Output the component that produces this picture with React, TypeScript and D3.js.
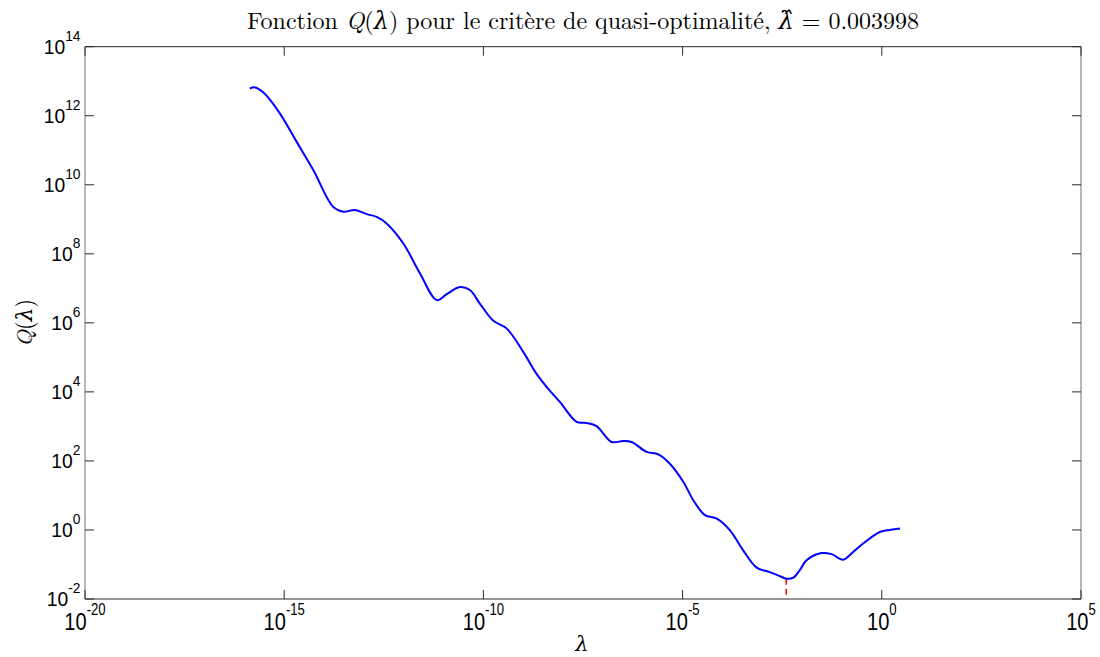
import React from "react";
import * as d3 from "d3";

// log10 of lambda and log10 of Q(lambda)
const lambdaExp = [
  -15.86, -15.73, -15.52, -15.11, -14.69, -14.27, -13.77, -13.52, -13.22, -12.93,
  -12.68, -12.43, -12.01, -11.59, -11.17, -10.92, -10.59, -10.34, -10.09, -9.75,
  -9.42, -9.0, -8.7, -8.41, -8.08, -7.66, -7.41, -7.16, -6.78, -6.49,
  -6.28, -5.9, -5.61, -5.32, -4.98, -4.73, -4.44, -4.14, -3.81, -3.48,
  -3.14, -2.81, -2.55, -2.4, -2.22, -2.05, -1.89, -1.51, -1.26, -0.97, -0.72, -0.42,
  -0.05, 0.2, 0.46,
];
const qExp = [
  12.79, 12.82, 12.67, 12.07, 11.25, 10.43, 9.36, 9.22, 9.27, 9.15,
  9.07, 8.88, 8.3, 7.43, 6.66, 6.83, 7.04, 6.95, 6.56, 6.06,
  5.84, 5.16, 4.58, 4.14, 3.71, 3.13, 3.1, 3.01, 2.55, 2.58,
  2.55, 2.26, 2.19, 1.92, 1.39, 0.86, 0.43, 0.33, -0.01, -0.59,
  -1.09, -1.22, -1.34, -1.41, -1.38, -1.15, -0.88, -0.67, -0.7, -0.86, -0.64, -0.35,
  -0.06, 0.0, 0.04,
];
const lambdaHat = 0.003998;
const xTickExps = [-20, -15, -10, -5, 0, 5];
const yTickExps = [-2, 0, 2, 4, 6, 8, 10, 12, 14];

const W = 1100;
const H = 657;
const m = { left: 85, right: 1081, top: 46.7, bottom: 599 };

export default function App() {
  const x = d3.scaleLog().domain([1e-20, 1e5]).range([m.left, m.right]);
  const y = d3.scaleLog().domain([1e-2, 1e14]).range([m.bottom, m.top]);
  const pts: [number, number][] = lambdaExp.map((e, i) => [Math.pow(10, e), Math.pow(10, qExp[i])]);
  const line = d3
    .line<[number, number]>()
    .x((d) => x(d[0]))
    .y((d) => y(d[1]))
    .curve(d3.curveCatmullRom.alpha(0.5));
  const qMin = d3.min(pts, (d) => d[1]) as number;
  const axisColor = "#2b2b2b";
  const tickLen = 9;
  const labelFont = "'Liberation Sans', Arial, sans-serif";
  const serif = "'Latin Modern Roman', 'DejaVu Serif', 'Liberation Serif', serif";

  return (
    <svg width={W} height={H} style={{ display: "block", position: "absolute", left: 0, top: 0 }}>
      <rect x={0} y={0} width={W} height={H} fill="#fff" />
      {/* box */}
      <line x1={m.left} x2={m.right} y1={m.bottom} y2={m.bottom} stroke={axisColor} strokeWidth={1} />
      <line x1={m.left} x2={m.right} y1={m.top} y2={m.top} stroke={axisColor} strokeWidth={1} />
      <line x1={m.left} x2={m.left} y1={m.top} y2={m.bottom} stroke="#888" strokeWidth={1.2} />
      <line x1={m.right} x2={m.right} y1={m.top} y2={m.bottom} stroke="#888" strokeWidth={1.2} />
      {/* x ticks */}
      {xTickExps.map((e) => {
        const px = x(Math.pow(10, e));
        return (
          <g key={"x" + e}>
            <line x1={px} x2={px} y1={m.bottom} y2={m.bottom - tickLen} stroke={axisColor} />
            <line x1={px} x2={px} y1={m.top} y2={m.top + tickLen} stroke={axisColor} />
            <text
              transform={`translate(${px},630) scale(0.82,1)`}
              textAnchor="middle"
              fontFamily={labelFont}
              fontSize={24.5}
              fill="#000"
            >
              <tspan>10</tspan>
              <tspan dy={-15} fontSize={16}>{e}</tspan>
            </text>
          </g>
        );
      })}
      {/* y ticks */}
      {yTickExps.map((e) => {
        const py = y(Math.pow(10, e));
        return (
          <g key={"y" + e}>
            <line x1={m.left} x2={m.left + tickLen} y1={py} y2={py} stroke={axisColor} />
            <line x1={m.right} x2={m.right - tickLen} y1={py} y2={py} stroke={axisColor} />
            <text
              transform={`translate(80.5,${py + 7}) scale(0.92,1)`}
              textAnchor="end"
              fontFamily={labelFont}
              fontSize={21}
              fill="#000"
            >
              <tspan>10</tspan>
              <tspan dy={-13} fontSize={15}>{e}</tspan>
            </text>
          </g>
        );
      })}
      {/* red dashed marker */}
      <line
        x1={x(lambdaHat)}
        x2={x(lambdaHat)}
        y1={y(qMin)}
        y2={m.bottom}
        stroke="#ff0000"
        strokeWidth={1.5}
        strokeDasharray="6,4"
      />
      {/* curve */}
      <path d={line(pts) || ""} fill="none" stroke="#0000ff" strokeWidth={2} />
      {/* title */}
      <text x={(m.left + m.right) / 2} y={29} textAnchor="middle" fontFamily={serif} fontSize={24} fill="#000">
        <tspan>Fonction </tspan>
        <tspan fontStyle="italic">Q</tspan>
        <tspan>(</tspan>
        <tspan fontStyle="italic">λ</tspan>
        <tspan>) pour le critère de quasi-optimalité, </tspan>
        <tspan fontStyle="italic">λ̂</tspan>
        <tspan> = 0.003998</tspan>
      </text>
      {/* axis labels */}
      <text x={582} y={651} textAnchor="middle" fontFamily={serif} fontStyle="italic" fontSize={21} fill="#000">
        λ
      </text>
      <text
        transform={`translate(32,${(m.top + m.bottom) / 2}) rotate(-90)`}
        textAnchor="middle"
        fontFamily={serif}
        fontSize={22}
        fill="#000"
      >
        <tspan fontStyle="italic">Q</tspan>
        <tspan>(</tspan>
        <tspan fontStyle="italic">λ</tspan>
        <tspan>)</tspan>
      </text>
    </svg>
  );
}
